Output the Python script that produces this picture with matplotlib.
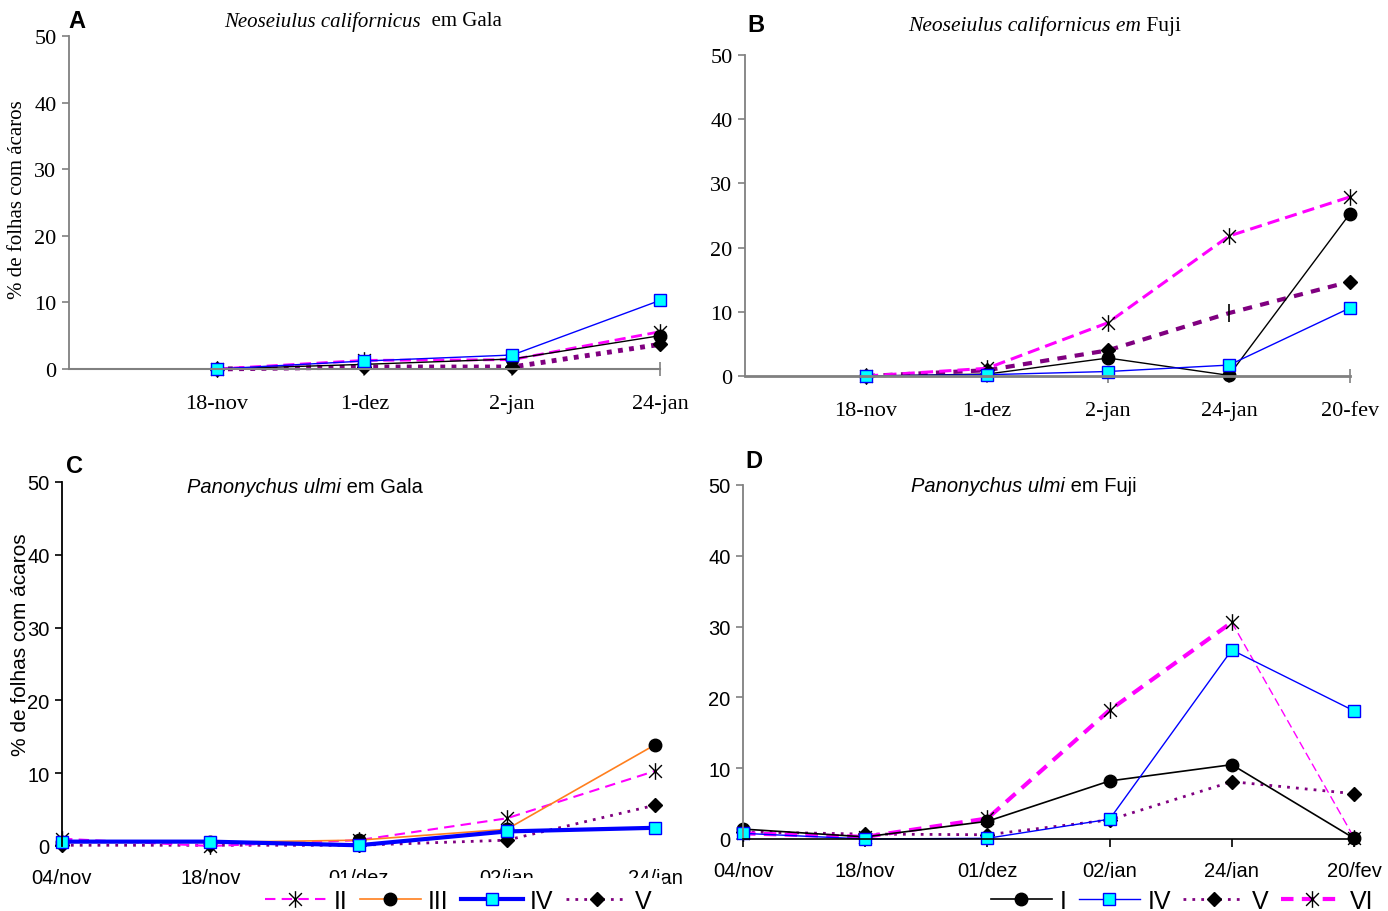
import matplotlib
matplotlib.use("Agg")
import matplotlib.pyplot as plt
from matplotlib.path import Path
from matplotlib import font_manager

# === DATA ===
# top panels: Neoseiulus californicus (Gala / Fuji)
a_dates = ["18-nov", "1-dez", "2-jan", "24-jan"]
a_I = [0.0, 0.7, 1.5, 5.0]
a_II = [0.0, 1.3, 1.4, 5.6]
a_IV = [0.0, 1.2, 2.1, 10.3]
a_V = [0.0, 0.3, 0.3, 3.7]

b_dates = ["18-nov", "1-dez", "2-jan", "24-jan", "20-fev"]
b_I = [0.0, 0.3, 2.8, 0.1, 25.3]
b_II = [0.0, 1.2, 8.3, 21.8, 27.9]
b_IV = [0.0, 0.2, 0.7, 1.7, 10.6]
b_V = [0.0, 0.9, 4.0, 9.8, 14.7]

# bottom panels: Panonychus ulmi (Gala / Fuji)
c_dates = ["04/nov", "18/nov", "01/dez", "02/jan", "24/jan"]
c_II = [1.0, 0.0, 0.8, 3.8, 10.3]
c_III = [0.5, 0.5, 0.8, 2.3, 13.9]
c_IV = [0.6, 0.6, 0.1, 2.0, 2.5]
c_V = [0.1, 0.1, 0.1, 0.8, 5.6]

d_dates = ["04/nov", "18/nov", "01/dez", "02/jan", "24/jan", "20/fev"]
d_I = [1.4, 0.3, 2.5, 8.2, 10.5, 0.1]
d_IV = [0.8, 0.0, 0.1, 2.8, 26.7, 18.1]
d_V = [1.0, 0.7, 0.6, 2.7, 8.1, 6.4]
d_VI = [0.8, 0.3, 2.9, 18.2, 30.6, 0.2]

yticks = [0, 10, 20, 30, 40, 50]
ylabel = "% de folhas com ácaros"

# === STYLE ===
W, H = 1388, 912
SERIF = "Liberation Serif"
names = {f.name for f in font_manager.fontManager.ttflist}
if "Liberation Sans Narrow" in names:
    SANS, SANS_SIZE = "Liberation Sans Narrow", 16
else:
    SANS, SANS_SIZE = "Liberation Sans", 14.5

MAGENTA = "#FF00FF"
PURPLE = "#800080"
BLUE = "#0000FF"
CYAN = "#00FFFF"
ORANGE = "#FF7F1E"
GRAY = "#808080"

# Excel-like star: an X with a vertical bar
STAR = Path([(-1, -1), (1, 1), (-1, 1), (1, -1), (0, -1.3), (0, 1.3)],
            [Path.MOVETO, Path.LINETO] * 3)

circ = dict(marker="o", ms=9, mfc="black", mec="black")
sq = dict(marker="s", ms=9, mfc=CYAN, mec=BLUE, mew=1)
dia = dict(marker="D", ms=7.5, mfc="black", mec="black")
star = dict(marker=STAR, ms=12, mfc="none", mec="black", mew=1)

leg_kw = dict(loc="center", ncol=4, frameon=True, facecolor="white", edgecolor="none",
              framealpha=1, borderpad=0.45, handlelength=2.45, handletextpad=0.3,
              columnspacing=0.5, prop={"family": SANS, "size": 18})


def px_axes(fig, left, top, right, bottom):
    return fig.add_axes([left / W, 1 - bottom / H, (right - left) / W, (bottom - top) / H])


def style_axes(ax, font, size, spine_col, bottom_col, bottom_lw, xdir, xlen, xpad):
    for s in ("top", "right"):
        ax.spines[s].set_visible(False)
    ax.spines["left"].set_color(spine_col)
    ax.spines["left"].set_linewidth(1.3)
    ax.spines["bottom"].set_color(bottom_col)
    ax.spines["bottom"].set_linewidth(bottom_lw)
    ax.set_ylim(0, 50)
    ax.set_yticks(yticks)
    ax.tick_params(axis="y", direction="out", length=5, width=1.2, color=spine_col, pad=4)
    ax.tick_params(axis="x", direction=xdir, length=xlen, width=1.2, color=bottom_col, pad=xpad)
    for lab in ax.get_xticklabels() + ax.get_yticklabels():
        lab.set_fontfamily(font)
        lab.set_fontsize(size)
    ax.patch.set_visible(False)


def two_part_title(fig, x, y, ital, rest, font, size):
    t1 = fig.text(x / W, 1 - y / H, ital, family=font, style="italic", size=size,
                  ha="left", va="center")
    fig.axes[-1].annotate(rest, xy=(1, 0.5), xycoords=t1, family=font, size=size,
                          ha="left", va="center", annotation_clip=False)


fig = plt.figure(figsize=(W / 100, H / 100), dpi=100)

# === PANEL A ===
ax = px_axes(fig, 69, 37, 660, 370)
xa = range(1, len(a_dates) + 1)
ax.plot(xa, a_V, color=PURPLE, lw=3.5, dashes=(1, 1.3), clip_on=False, **dia)
ax.plot(xa, a_II, color=MAGENTA, lw=2, dashes=(4, 2), clip_on=False, **star)
ax.plot(xa, a_I, color="black", lw=1, clip_on=False, **circ)
ax.plot(xa, a_IV, color=BLUE, lw=1, clip_on=False, **sq)
ax.set_xlim(0, len(a_dates))
ax.set_xticks(list(xa))
ax.set_xticklabels(a_dates)
style_axes(ax, SERIF, 16, GRAY, GRAY, 1.5, "inout", 10, 13)
two_part_title(fig, 224, 22, "Neoseiulus californicus", "  em Gala", SERIF, 15)
fig.text(18 / W, 1 - 200 / H, ylabel, rotation=90, family=SERIF, size=15,
         ha="center", va="center")
fig.text(68 / W, 1 - 22 / H, "A", family="Liberation Sans", weight="bold", size=17,
         ha="left", va="center")

# === PANEL B ===
ax = px_axes(fig, 745, 56, 1350, 377)
xb = list(range(1, len(b_dates) + 1))
ax.plot(xb, b_V, color=PURPLE, lw=3, dashes=(2.2, 2), clip_on=False,
        markevery=[0, 1, 2, 4], **dia)
ax.plot(xb[3], b_V[3], marker="|", ms=13, mew=1.2, color="black", clip_on=False)
ax.plot(xb, b_II, color=MAGENTA, lw=2.2, dashes=(4, 2), clip_on=False, **star)
ax.plot(xb, b_I, color="black", lw=1, clip_on=False, **circ)
ax.plot(xb, b_IV, color=BLUE, lw=1, clip_on=False, **sq)
ax.set_xlim(0, len(b_dates))
ax.set_xticks(xb)
ax.set_xticklabels(b_dates)
style_axes(ax, SERIF, 16, GRAY, GRAY, 2, "inout", 10, 13)
two_part_title(fig, 908, 26, "Neoseiulus californicus em", " Fuji", SERIF, 15.5)
fig.text(747 / W, 1 - 26 / H, "B", family="Liberation Sans", weight="bold", size=17,
         ha="left", va="center")

# === PANEL C ===
ax = px_axes(fig, 62, 483, 655, 847)
xc = list(range(len(c_dates)))
l_V, = ax.plot(xc, c_V, color=PURPLE, lw=2, dashes=(1, 2.2), clip_on=False, **dia)
l_II, = ax.plot(xc, c_II, color=MAGENTA, lw=1.5, dashes=(5, 3), clip_on=False, **star)
l_III, = ax.plot(xc, c_III, color=ORANGE, lw=1.2, clip_on=False, **circ)
l_IV, = ax.plot(xc, c_IV, color=BLUE, lw=3, clip_on=False, **sq)
ax.set_xlim(0, len(c_dates) - 1)
ax.set_xticks(xc)
ax.set_xticklabels(c_dates)
style_axes(ax, SANS, SANS_SIZE, "black", "black", 1, "out", 0, 16)
ax.spines["bottom"].set_visible(False)
two_part_title(fig, 187, 488, "Panonychus ulmi", " em Gala", "Liberation Sans", 14.5)
# the y label sits over the tick labels, as in the original figure
fig.text(21 / W, 1 - 645 / H, ylabel, rotation=90, family="Liberation Sans", size=15,
         ha="center", va="center")
fig.text(66 / W, 1 - 467 / H, "C", family="Liberation Sans", weight="bold", size=17,
         ha="left", va="center")
fig.legend([l_II, l_III, l_IV, l_V], ["II", "III", "IV", "V"],
           bbox_to_anchor=(458 / W, 1 - 902 / H), **leg_kw)

# === PANEL D ===
ax = px_axes(fig, 743, 486, 1354, 840)
xd = list(range(len(d_dates)))
m_V, = ax.plot(xd, d_V, color=PURPLE, lw=2, dashes=(1, 2.2), clip_on=False, **dia)
ax.plot(xd[-2:], d_VI[-2:], color=MAGENTA, lw=1, dashes=(6, 3), clip_on=False)
m_VI, = ax.plot(xd[:-1], d_VI[:-1], color=MAGENTA, lw=3, dashes=(3, 2), clip_on=False, **star)
ax.plot(xd[-1], d_VI[-1], clip_on=False, **star)
m_I, = ax.plot(xd, d_I, color="black", lw=1.2, clip_on=False, **circ)
m_IV, = ax.plot(xd, d_IV, color=BLUE, lw=1, clip_on=False, **sq)
ax.set_xlim(0, len(d_dates) - 1)
ax.set_xticks(xd)
ax.set_xticklabels(d_dates)
style_axes(ax, SANS, SANS_SIZE, GRAY, "black", 1.2, "out", 6, 10)
two_part_title(fig, 911, 486, "Panonychus ulmi", " em Fuji", "Liberation Sans", 14.5)
fig.text(745 / W, 1 - 461 / H, "D", family="Liberation Sans", weight="bold", size=17,
         ha="left", va="center")
fig.legend([m_I, m_IV, m_V, m_VI], ["I", "IV", "V", "VI"],
           bbox_to_anchor=(1182 / W, 1 - 902 / H), **leg_kw)

fig.savefig("out.png", dpi=100)
